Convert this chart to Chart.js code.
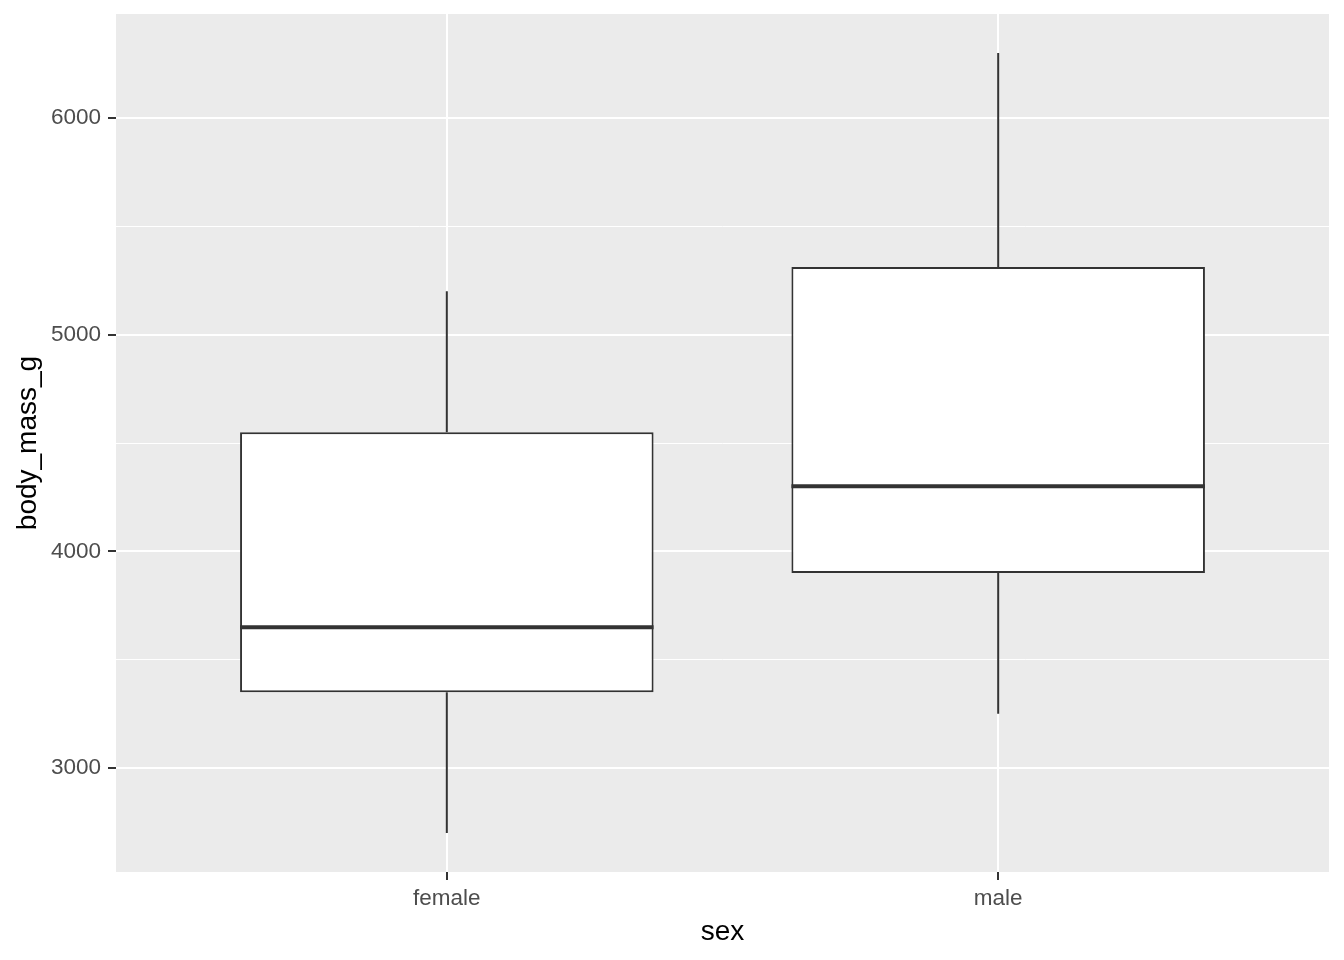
<!DOCTYPE html>
<html>
<head>
<meta charset="utf-8">
<script src="https://cdn.jsdelivr.net/npm/chart.js@4/dist/chart.umd.min.js"></script>
<style>
  html, body { margin: 0; padding: 0; background: #ffffff; }
  #wrap { width: 1344px; height: 960px; }
</style>
</head>
<body>
<div id="wrap"><canvas id="c" width="1344" height="960"></canvas></div>
<script>
// ---- data ----
const categories = ['female', 'male'];
const whiskerLow = [2700, 3250];
const q1 = [3350, 3900];
const median = [3650, 4300];
const q3 = [4550, 5312.5];
const whiskerHigh = [5200, 6300];
const yMajorTicks = [3000, 4000, 5000, 6000];
const yMinorTicks = [3500, 4500, 5500];
const xTitle = 'sex';
const yTitle = 'body_mass_g';

// ---- build datasets ----
const BOX_WIDTH = 0.75;
const hw = BOX_WIDTH / 2;
const xs = categories.map((_, i) => i + 1);

const boxData = xs.map((x, i) => ({ x: x, y: [q1[i], q3[i]] }));
const whiskerData = [];
const medianData = [];
xs.forEach((x, i) => {
  whiskerData.push({ x: x, y: whiskerHigh[i] }, { x: x, y: q3[i] }, { x: x, y: null },
                   { x: x, y: q1[i] }, { x: x, y: whiskerLow[i] }, { x: x, y: null });
  medianData.push({ x: x - hw, y: median[i] }, { x: x + hw, y: median[i] }, { x: x + hw, y: null });
});

const allYTicks = yMajorTicks.concat(yMinorTicks).sort((a, b) => a - b);
const isMajor = v => yMajorTicks.includes(v);

const panelBg = {
  id: 'panelBg',
  beforeDraw(chart) {
    const a = chart.chartArea, ctx = chart.ctx;
    ctx.save();
    ctx.fillStyle = '#EBEBEB';
    ctx.fillRect(a.left, a.top, a.right - a.left, a.bottom - a.top);
    ctx.restore();
  }
};

const FONT = "'Liberation Sans', Arial, sans-serif";

function zeroPad(scale) {
  scale.paddingTop = 0; scale.paddingBottom = 0;
  scale.paddingLeft = 0; scale.paddingRight = 0;
}

new Chart(document.getElementById('c'), {
  type: 'bar',
  data: {
    datasets: [
      {
        type: 'bar',
        data: boxData,
        backgroundColor: '#FFFFFF',
        borderColor: '#333333',
        borderWidth: 2,
        borderSkipped: false,
        barPercentage: BOX_WIDTH,
        categoryPercentage: 1,
        order: 2
      },
      {
        type: 'line',
        data: whiskerData,
        borderColor: '#333333',
        borderWidth: 2,
        pointRadius: 0,
        spanGaps: false,
        fill: false,
        order: 1
      },
      {
        type: 'line',
        data: medianData,
        borderColor: '#333333',
        borderWidth: 4,
        pointRadius: 0,
        spanGaps: false,
        fill: false,
        order: 0
      }
    ]
  },
  options: {
    responsive: false,
    animation: false,
    layout: { padding: { left: 0, top: 14, right: 15, bottom: 0 } },
    plugins: { legend: { display: false }, tooltip: { enabled: false } },
    scales: {
      x: {
        type: 'linear',
        offset: false,
        min: 0.4,
        max: 2.6,
        afterBuildTicks(scale) { scale.ticks = xs.map(v => ({ value: v })); },
        afterFit(scale) { scale.height = 88; zeroPad(scale); },
        border: { display: false },
        grid: {
          offset: false,
          color: '#FFFFFF',
          lineWidth: 2,
          drawTicks: true,
          tickLength: 8,
          tickColor: '#333333',
          tickWidth: 2
        },
        ticks: {
          autoSkip: false,
          maxRotation: 0,
          padding: 5,
          color: '#4D4D4D',
          font: { family: FONT, size: 22.5 },
          callback: (v) => { const i = Math.round(v) - 1; return categories[i] !== undefined ? categories[i] : ''; }
        },
        title: {
          display: true,
          text: xTitle,
          color: '#000000',
          font: { family: FONT, size: 28 },
          padding: { top: 0, bottom: 11 }
        }
      },
      y: {
        type: 'linear',
        min: 2520,
        max: 6480,
        afterBuildTicks(scale) { scale.ticks = allYTicks.map(v => ({ value: v })); },
        afterFit(scale) { scale.width = 116; zeroPad(scale); },
        border: { display: false },
        grid: {
          color: '#FFFFFF',
          lineWidth: (ctx) => (ctx.tick && isMajor(ctx.tick.value)) ? 2 : 1,
          drawTicks: true,
          tickLength: 8,
          tickColor: (ctx) => (ctx.tick && isMajor(ctx.tick.value)) ? '#333333' : 'rgba(0,0,0,0)',
          tickWidth: 2
        },
        ticks: {
          autoSkip: false,
          padding: 7,
          color: '#4D4D4D',
          font: { family: FONT, size: 22.5 },
          callback: (v) => isMajor(v) ? String(v) : ''
        },
        title: {
          display: true,
          text: yTitle,
          color: '#000000',
          font: { family: FONT, size: 28 },
          padding: { top: 11, bottom: 0 }
        }
      }
    }
  },
  plugins: [panelBg]
});
</script>
</body>
</html>
